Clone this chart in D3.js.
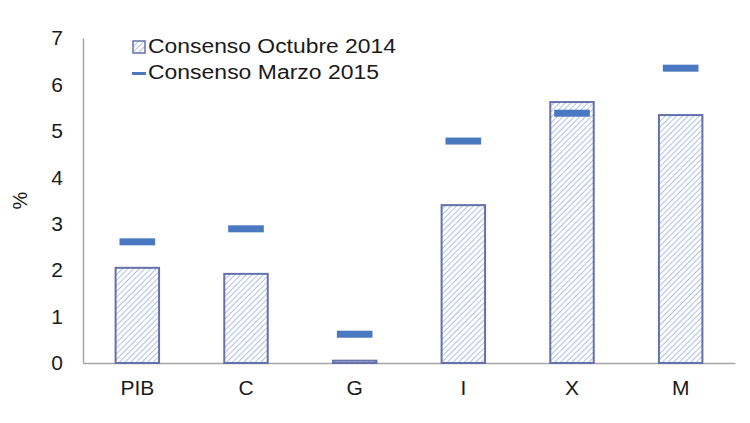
<!DOCTYPE html>
<html>
<head>
<meta charset="utf-8">
<style>
  body { margin: 0; background: #fff; }
  text { font-family: "Liberation Sans", Arial, sans-serif; fill: #1a1a1a; }
</style>
</head>
<body>
<div id="chart"></div>
<script src="https://d3js.org/d3.v7.min.js"></script>
<script>
// data
var categories = ["PIB", "C", "G", "I", "X", "M"];
var octubre2014 = [2.05, 1.92, 0.05, 3.40, 5.62, 5.34];
var marzo2015 = [2.61, 2.89, 0.62, 4.78, 5.38, 6.35];
var yTicks = [0, 1, 2, 3, 4, 5, 6, 7];
var seriesNames = ["Consenso Octubre 2014", "Consenso Marzo 2015"];

var width = 750, height = 423;
var margin = {top: 38, right: 15, bottom: 60, left: 83};

var svg = d3.select("#chart").append("svg")
    .attr("width", width)
    .attr("height", height);

// hatch pattern for the bars
var defs = svg.append("defs");
var pat = defs.append("pattern")
    .attr("id", "hatch")
    .attr("patternUnits", "userSpaceOnUse")
    .attr("width", 4)
    .attr("height", 4)
    .attr("patternTransform", "rotate(45)");
pat.append("rect").attr("width", 4).attr("height", 4).attr("fill", "#ffffff");
pat.append("line")
    .attr("x1", 0).attr("y1", 0).attr("x2", 0).attr("y2", 4)
    .attr("stroke", "#a4bde3").attr("stroke-width", 1.8);

var x = d3.scaleBand()
    .domain(categories)
    .range([margin.left, width - margin.right])
    .paddingInner(0.6)
    .paddingOuter(0.3);

var y = d3.scaleLinear()
    .domain([0, 7])
    .range([height - margin.bottom, margin.top]);

// axes
var yAxis = svg.append("g")
    .attr("transform", "translate(" + margin.left + ",0)")
    .call(d3.axisLeft(y).tickValues(yTicks).tickFormat(d3.format("d")).tickSize(0).tickPadding(20));
yAxis.select(".domain").attr("stroke", "#a6a6a6").attr("stroke-width", 1.5);
yAxis.selectAll("text").style("font-size", "21px").attr("fill", "#1a1a1a");

var xAxis = svg.append("g")
    .attr("transform", "translate(0," + y(0) + ")")
    .call(d3.axisBottom(x).tickSize(0).tickPadding(17));
xAxis.select(".domain").attr("stroke", "#a6a6a6").attr("stroke-width", 1.5);
xAxis.selectAll("text").style("font-size", "21px").attr("fill", "#1a1a1a");

// y label
svg.append("text")
    .attr("transform", "translate(22," + y(3.5) + ") rotate(-90)")
    .attr("text-anchor", "middle")
    .attr("dominant-baseline", "middle")
    .style("font-size", "20px")
    .text("%");

// bars
svg.selectAll(".bar")
    .data(categories)
  .enter().append("rect")
    .attr("class", "bar")
    .attr("x", function(d) { return x(d); })
    .attr("width", x.bandwidth())
    .attr("y", function(d, i) { return y(octubre2014[i]); })
    .attr("height", function(d, i) { return y(0) - y(octubre2014[i]); })
    .attr("fill", "url(#hatch)")
    .attr("stroke", "#6670aa")
    .attr("stroke-width", 2);

// markers
var mw = x.bandwidth() * 0.82;
svg.selectAll(".marker")
    .data(categories)
  .enter().append("rect")
    .attr("class", "marker")
    .attr("x", function(d) { return x(d) + (x.bandwidth() - mw) / 2; })
    .attr("width", mw)
    .attr("y", function(d, i) { return y(marzo2015[i]) - 3.5; })
    .attr("height", 7)
    .attr("fill", "#4a79c2");

// legend
var lg = svg.append("g").attr("transform", "translate(132,47)");
lg.append("rect")
    .attr("x", 1).attr("y", -6).attr("width", 12).attr("height", 12)
    .attr("fill", "url(#hatch)")
    .attr("stroke", "#6670aa").attr("stroke-width", 1.5);
lg.append("rect")
    .attr("x", 0).attr("y", 25).attr("width", 14).attr("height", 3)
    .attr("fill", "#4a79c2");
var legendWidths = [248, 231];
lg.selectAll(".ltext")
    .data(seriesNames)
  .enter().append("text")
    .attr("x", 16)
    .attr("y", function(d, i) { return 1 + i * 26; })
    .attr("dominant-baseline", "middle")
    .attr("textLength", function(d, i) { return legendWidths[i]; })
    .attr("lengthAdjust", "spacingAndGlyphs")
    .style("font-size", "20px")
    .text(function(d) { return d; });
</script>
</body>
</html>
